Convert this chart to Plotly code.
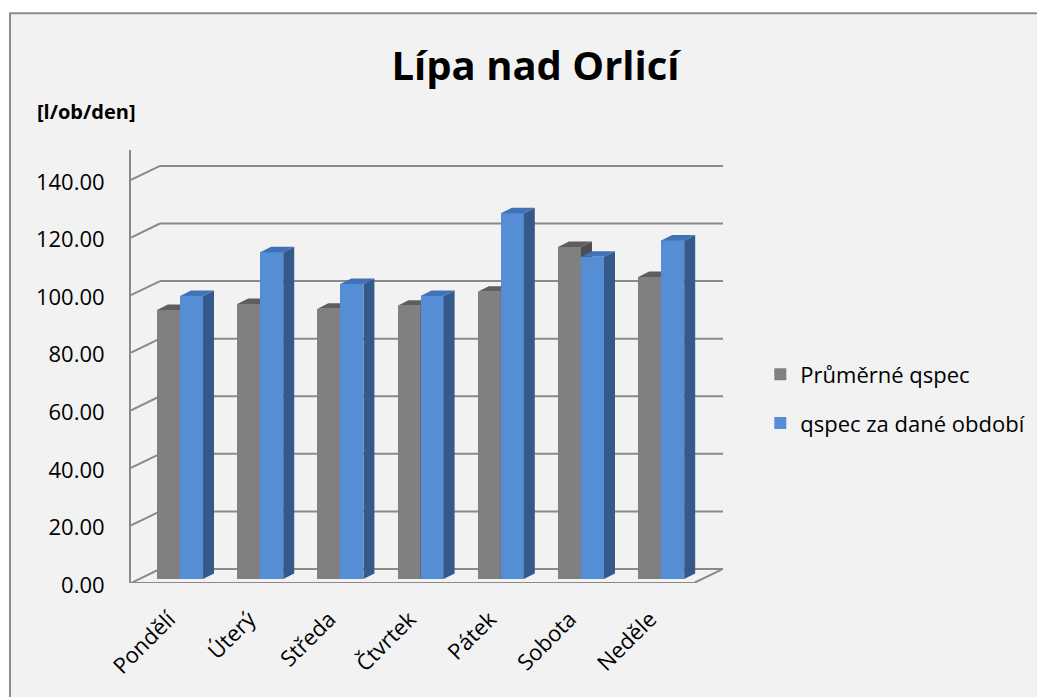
import plotly.graph_objects as go

# ---------------- data ----------------
days = ["Pondělí", "Úterý", "Středa", "Čtvrtek", "Pátek", "Sobota", "Neděle"]
avg_qspec = [93.4, 95.5, 93.9, 94.9, 99.8, 115.3, 104.9]
period_qspec = [98.3, 113.5, 102.5, 98.3, 127.0, 111.9, 117.6]
y_ticks = [0, 20, 40, 60, 80, 100, 120, 140]
series_names = ["Průměrné qspec", "qspec za dané období"]

# ---------------- geometry (pseudo-3D look) ----------------
PX_CAT = 80.2      # px per category
PX_UNIT = 2.879    # px per value unit
BAR_W = 0.287
DX = 11 / PX_CAT   # bar depth offset in x units
DY = 5.5 / PX_UNIT  # bar depth offset in y units
WALL_DX = 29 / PX_CAT
BACK_DY = 10 / PX_UNIT
FRONT_DY = 4 / PX_UNIT
X0, X1 = -0.611, 6.771
Y0, Y1 = -1.389, 149.0

GRAY_FRONT, GRAY_SIDE, GRAY_TOP = "#808080", "#4d4d4d", "#5e5e5e"
BLUE_FRONT, BLUE_SIDE, BLUE_TOP = "#558ed5", "#35598a", "#3f72b6"
GRID = "#8a8a8a"

idx = list(range(len(days)))


def faces(lefts, vals):
    sx, sy, tx, ty = [], [], [], []
    for xl, v in zip(lefts, vals):
        xr = xl + BAR_W
        sx += [xr, xr + DX, xr + DX, xr, xr, None]
        sy += [0, DY, v + DY, v, 0, None]
        tx += [xl, xr, xr + DX, xl + DX, xl, None]
        ty += [v, v, v + DY, v + DY, v, None]
    return sx, sy, tx, ty


fig = go.Figure()

specs = [
    (avg_qspec, -BAR_W, GRAY_FRONT, GRAY_SIDE, GRAY_TOP, "x", "y"),
    (period_qspec, 0.0, BLUE_FRONT, BLUE_SIDE, BLUE_TOP, "x2", "y2"),
]
for k, (vals, off, cf, cs, ct, xa, ya) in enumerate(specs):
    fig.add_trace(go.Bar(
        x=idx, y=vals, width=BAR_W, offset=off, name=series_names[k],
        marker=dict(color=cf, line=dict(width=0)), xaxis=xa, yaxis=ya,
        legendgroup=f"g{k}", showlegend=True,
    ))
    lefts = [i + off for i in idx]
    sx, sy, tx, ty = faces(lefts, vals)
    fig.add_trace(go.Scatter(x=sx, y=sy, fill="toself", fillcolor=cs, mode="lines",
                             line=dict(width=0, color=cs), showlegend=False,
                             hoverinfo="skip", xaxis=xa, yaxis=ya))
    fig.add_trace(go.Scatter(x=tx, y=ty, fill="toself", fillcolor=ct, mode="lines",
                             line=dict(width=0, color=ct), showlegend=False,
                             hoverinfo="skip", xaxis=xa, yaxis=ya))

shapes = []
# outer frame
shapes.append(dict(type="rect", xref="paper", yref="paper",
                   x0=-0.2044, x1=1.552, y0=-0.275, y1=1.316,
                   fillcolor="#f2f2f2", line=dict(color="#8c8c8c", width=2), layer="below"))
# back-wall gridlines + left wall diagonals
for v in y_ticks:
    shapes.append(dict(type="line", xref="x", yref="y", x0=X0 + WALL_DX, x1=X1,
                       y0=v + BACK_DY, y1=v + BACK_DY,
                       line=dict(color=GRID, width=2), layer="below"))
    shapes.append(dict(type="line", xref="x", yref="y", x0=X0, x1=X0 + WALL_DX,
                       y0=v - FRONT_DY, y1=v + BACK_DY,
                       line=dict(color=GRID, width=2), layer="below"))
# floor front edge and right diagonal
shapes.append(dict(type="line", xref="x", yref="y", x0=X0, x1=X1 - WALL_DX,
                   y0=-FRONT_DY, y1=-FRONT_DY, line=dict(color=GRID, width=2), layer="below"))
shapes.append(dict(type="line", xref="x", yref="y", x0=X1 - WALL_DX, x1=X1,
                   y0=-FRONT_DY, y1=BACK_DY, line=dict(color=GRID, width=2), layer="below"))

FONT = "'Open Sans', 'Noto Sans', sans-serif"

fig.update_layout(
    width=1037, height=689,
    margin=dict(l=123, r=322, t=142, b=114),
    paper_bgcolor="white", plot_bgcolor="rgba(0,0,0,0)",
    font=dict(family=FONT, size=22, color="black"),
    showlegend=True,
    bargap=0,
    title=dict(text="<b>Lípa nad Orlicí</b>", x=0.5087, xanchor="center",
               y=0.916, yanchor="middle", font=dict(size=40, family=FONT, color="black")),
    xaxis=dict(range=[X0, X1], tickmode="array", tickvals=idx, ticktext=days,
               tickangle=-45, showgrid=False, zeroline=False, showline=False,
               ticks="", ticklabelstandoff=18, ticklabelshift=-11, tickfont=dict(size=22)),
    yaxis=dict(range=[Y0, Y1], tickmode="array", tickvals=y_ticks,
               ticktext=[f"{v:.2f}" for v in y_ticks], showgrid=False, zeroline=False,
               showline=True, linecolor=GRID, linewidth=2, ticks="",
               ticklabelstandoff=20, ticklabelshift=6, tickfont=dict(size=22)),
    xaxis2=dict(range=[X0, X1], overlaying="x", anchor="y2", visible=False),
    yaxis2=dict(range=[Y0, Y1], overlaying="y", anchor="x2", visible=False),
    legend=dict(x=1.063, xanchor="left", y=0.53, yanchor="top",
                bgcolor="rgba(0,0,0,0)", font=dict(size=22),
                traceorder="grouped", tracegroupgap=17),
    shapes=shapes,
    annotations=[dict(text="<b>[l/ob/den]</b>", xref="paper", yref="paper",
                      x=-0.162, xanchor="left", y=1.088, yanchor="middle",
                      showarrow=False, font=dict(size=20, family=FONT))],
)

fig.write_html("out.html")
